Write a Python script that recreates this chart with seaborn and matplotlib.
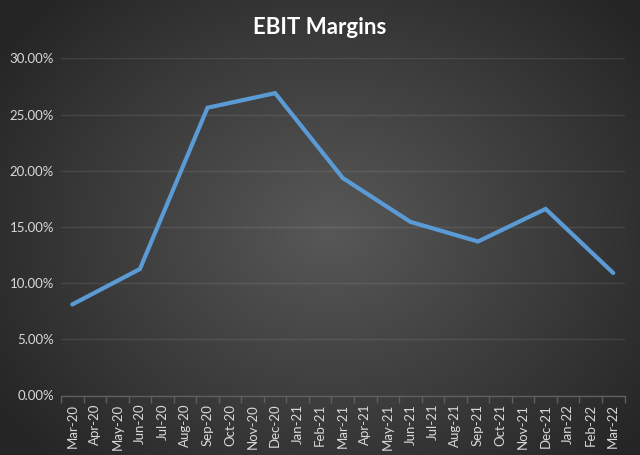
import numpy as np
import pandas as pd
import matplotlib
matplotlib.use("Agg")
import matplotlib.pyplot as plt
import seaborn as sns
from matplotlib.ticker import FuncFormatter, FixedLocator

months = ["Mar-20", "Apr-20", "May-20", "Jun-20", "Jul-20", "Aug-20", "Sep-20", "Oct-20",
          "Nov-20", "Dec-20", "Jan-21", "Feb-21", "Mar-21", "Apr-21", "May-21", "Jun-21",
          "Jul-21", "Aug-21", "Sep-21", "Oct-21", "Nov-21", "Dec-21", "Jan-22", "Feb-22", "Mar-22"]
quarters = ["Mar-20", "Jun-20", "Sep-20", "Dec-20", "Mar-21", "Jun-21", "Sep-21", "Dec-21", "Mar-22"]
margins = [8.1, 11.25, 25.6, 26.9, 19.35, 15.45, 13.7, 16.6, 10.9]

df = pd.DataFrame({"pos": [months.index(q) for q in quarters], "margin": margins})

sns.set_theme(style="dark")
plt.rcParams["font.family"] = ["Lato", "DejaVu Sans"]

fig = plt.figure(figsize=(6.4, 4.55), dpi=100)

# radial gradient background
bg = fig.add_axes([0, 0, 1, 1], zorder=-10)
yy, xx = np.mgrid[0:455, 0:640]
cx, cy = 330, 230
r = np.sqrt(((xx - cx) / 400.0) ** 2 + ((yy - cy) / 330.0) ** 2)
r = np.clip(r, 0, 1)
inner, outer = 0x58, 0x25
vals = (inner + (outer - inner) * r) / 255.0
img = np.dstack([vals, vals, vals])
bg.imshow(img, aspect="auto", extent=[0, 1, 0, 1], origin="upper")
bg.axis("off")

ax = fig.add_axes([61 / 640, 1 - 395.5 / 455, (624.5 - 61) / 640, (395.5 - 58.3) / 455])
ax.set_facecolor("none")
sns.lineplot(data=df, x="pos", y="margin", ax=ax, color="#5b9bd5", linewidth=3.0,
             solid_capstyle="round", solid_joinstyle="miter")

ax.set_xlim(-0.5, len(months) - 0.5)
ax.set_ylim(0, 30)
ax.set_yticks(np.arange(0, 30.01, 5))
ax.yaxis.set_major_formatter(FuncFormatter(lambda v, p: f"{v:.2f}%"))
ax.set_xticks(range(len(months)))
ax.set_xticklabels(months, rotation=90)
ax.xaxis.set_minor_locator(FixedLocator(np.arange(-0.5, len(months), 1)))

ax.grid(axis="y", color="white", alpha=0.09, linewidth=1.0)
ax.grid(axis="x", visible=False)
for s in ["top", "right", "left"]:
    ax.spines[s].set_visible(False)
ax.spines["bottom"].set_color("#5f5f5f")
ax.spines["bottom"].set_linewidth(1.0)

ax.tick_params(axis="x", which="major", length=0, pad=6, labelsize=9.5, labelcolor="#d9d9d9")
ax.tick_params(axis="x", which="minor", length=5, width=1.0, color="#5f5f5f", bottom=True)
ax.tick_params(axis="y", length=0, pad=5, labelsize=9.5, labelcolor="#d9d9d9")
ax.set_xlabel("")
ax.set_ylabel("")

fig.text(0.5, 1 - 27 / 455, "EBIT Margins", ha="center", va="center", color="white",
         fontsize=16, fontweight="bold")

fig.savefig("out.png", dpi=100)
